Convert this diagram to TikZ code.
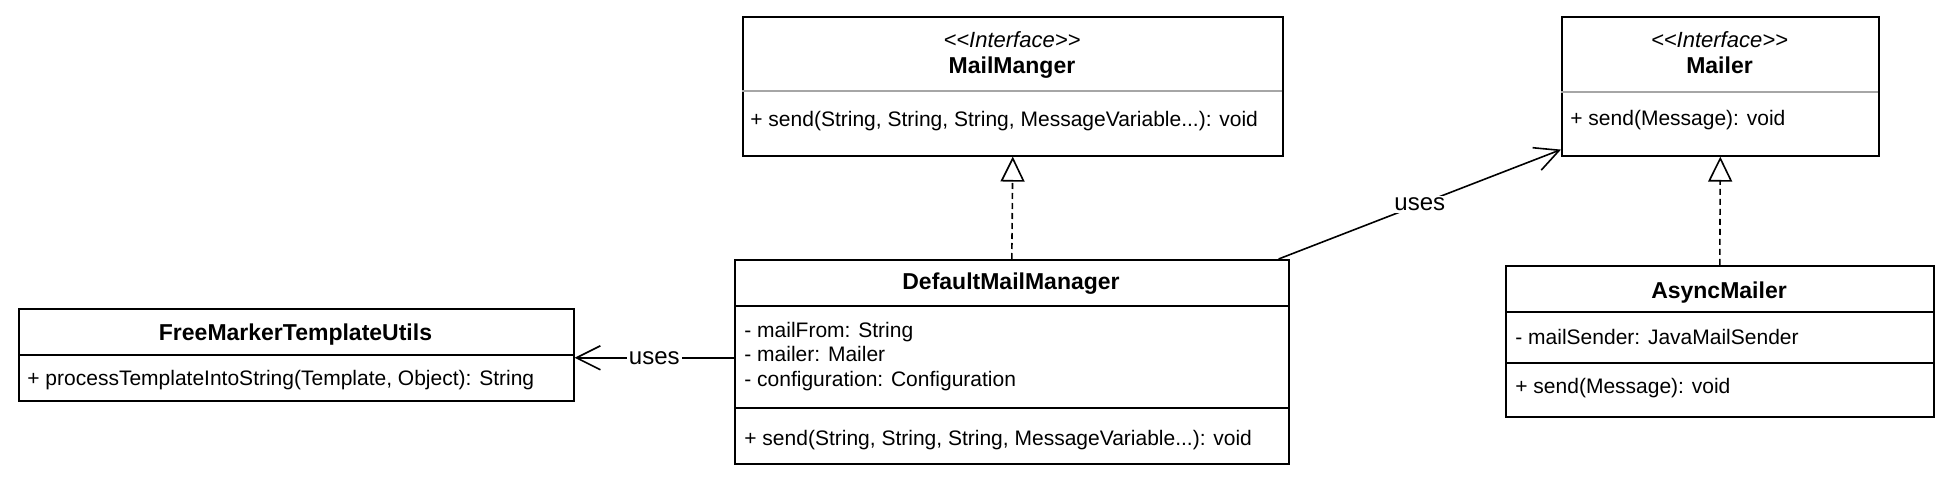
\documentclass[tikz,border=0pt]{standalone}
\usepackage{fontspec}
\setmainfont{Liberation Sans}
\usetikzlibrary{arrows.meta,calc}
\begin{document}
\begin{tikzpicture}[x=0.5pt,y=-0.5pt,
  box/.style={draw, line width=0.8pt, anchor=north west, inner sep=0pt, fill=white},
  sepk/.style={line width=0.8pt},
  sepg/.style={line width=1.2pt, draw=black!35},
  txt/.style={font=\fontsize{10.5pt}{12pt}\selectfont, inner sep=0pt, anchor=west, text height=0.75em, text depth=0.25em},
  ttl/.style={font=\fontsize{11.5pt}{13pt}\selectfont\bfseries, inner sep=0pt, text height=0.75em, text depth=0.25em},
  ster/.style={font=\fontsize{11pt}{13pt}\selectfont\itshape, inner sep=0pt, text height=0.75em, text depth=0.25em},
  realize/.style={line width=0.8pt, dash pattern=on 3pt off 2pt, -{Triangle[open, length=12.5pt, width=12pt, fill=white]}},
  usesarrow/.style={line width=0.8pt, -{Straight Barb[length=12pt, width=12pt, line width=0.8pt]}},
  lbl/.style={font=\fontsize{12pt}{14pt}\selectfont, fill=white, inner sep=1pt}
]
\useasboundingbox (0,0) rectangle (1950,480);

% MailManger interface
\node[box, minimum width=270pt, minimum height=69.5pt] (mm) at (742,16) {};
\draw[sepg] (742,91) -- (1282,91);
\node[ster] (mmst) at (1012,43) {{<}{<}Interface{>}{>}};
\node[ttl] (mmname) at (1012,69) {MailManger};
\node[txt] (mmop) at (750,122) {+ send(String, String, String, MessageVariable...): void};

% Mailer interface
\node[box, minimum width=158.5pt, minimum height=69.5pt] (mailer) at (1561,16) {};
\draw[sepg] (1561,92) -- (1878,92);
\node[ster] (mst) at (1719.5,43) {{<}{<}Interface{>}{>}};
\node[ttl] (mname) at (1719.5,69) {Mailer};
\node[txt] (mop) at (1570,121) {+ send(Message): void};

% FreeMarkerTemplateUtils
\node[box, minimum width=277.5pt, minimum height=46pt] (fm) at (18,308) {};
\draw[sepk] (18,355) -- (573,355);
\node[ttl] (fmname) at (295.5,336) {FreeMarkerTemplateUtils};
\node[txt] (fmop) at (27,381) {+ processTemplateIntoString(Template, Object): String};

% DefaultMailManager
\node[box, minimum width=277pt, minimum height=102pt] (dmm) at (734,259) {};
\draw[sepk] (734,306) -- (1288,306);
\draw[sepk] (734,408) -- (1288,408);
\node[ttl] (dmmname) at (1011,285) {DefaultMailManager};
\node[txt] (dmma1) at (744,333) {- mailFrom: String};
\node[txt] (dmma2) at (744,357) {- mailer: Mailer};
\node[txt] (dmma3) at (744,382) {- configuration: Configuration};
\node[txt] (dmmop) at (744,441) {+ send(String, String, String, MessageVariable...): void};

% AsyncMailer
\node[box, minimum width=214pt, minimum height=75.5pt] (am) at (1505,265) {};
\draw[sepk] (1505,312) -- (1933,312);
\draw[sepk] (1505,363) -- (1933,363);
\node[ttl] (amname) at (1719,294) {AsyncMailer};
\node[txt] (ama1) at (1515,340) {- mailSender: JavaMailSender};
\node[txt] (amop) at (1515,389) {+ send(Message): void};

% connectors
\draw[realize] (dmm.north) -- (mm.south);
\draw[realize] (am.north) -- (mailer.south);
\draw[usesarrow] ($(dmm.north east)+(-11,0)$) -- node[lbl] (u1) {uses} ($(mailer.south west)+(0,-7)$);
\draw[usesarrow] ($(dmm.west)+(0,-4)$) -- node[lbl, pos=0.5] (u2) {uses} ($(fm.east)+(0,3)$);
\end{tikzpicture}
\end{document}
